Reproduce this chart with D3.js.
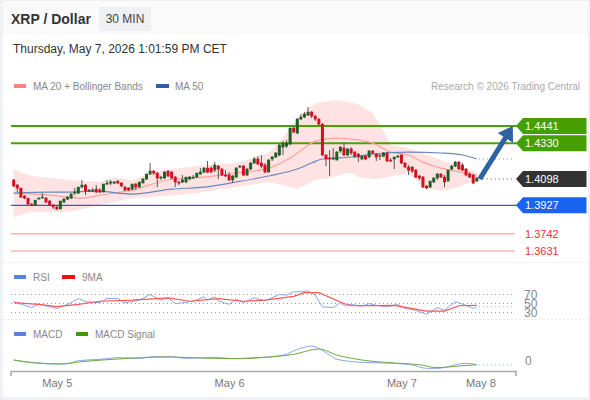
<!DOCTYPE html>
<html><head><meta charset="utf-8">
<script src="https://cdn.jsdelivr.net/npm/d3@7"></script>
<style>html,body{margin:0;padding:0;background:#fff}svg{display:block;font-family:"Liberation Sans",Arial,sans-serif}</style>
</head><body><svg id="c" width="590" height="400"></svg>
<script>
const opens=[1.4091,1.4058,1.4039,1.3987,1.3974,1.3935,1.3929,1.3967,1.3974,1.3974,1.3955,1.3929,1.3916,1.3903,1.3948,1.3967,1.3974,1.4006,1.4006,1.4045,1.4058,1.4019,1.4019,1.4032,1.4026,1.4013,1.4065,1.4071,1.4071,1.4084,1.4071,1.4045,1.4039,1.4032,1.4065,1.4045,1.4071,1.4097,1.4130,1.4149,1.4136,1.4104,1.4104,1.4149,1.4142,1.4110,1.4078,1.4078,1.4078,1.4097,1.4104,1.4110,1.4130,1.4142,1.4168,1.4168,1.4155,1.4181,1.4162,1.4123,1.4123,1.4091,1.4110,1.4175,1.4181,1.4123,1.4162,1.4201,1.4227,1.4201,1.4188,1.4142,1.4227,1.4240,1.4253,1.4304,1.4311,1.4324,1.4428,1.4395,1.4486,1.4499,1.4512,1.4531,1.4505,1.4486,1.4453,1.4253,1.4233,1.4227,1.4220,1.4279,1.4298,1.4253,1.4292,1.4272,1.4259,1.4227,1.4246,1.4240,1.4279,1.4259,1.4246,1.4246,1.4266,1.4220,1.4227,1.4240,1.4253,1.4201,1.4175,1.4175,1.4155,1.4117,1.4110,1.4052,1.4045,1.4078,1.4104,1.4130,1.4110,1.4084,1.4162,1.4181,1.4207,1.4188,1.4162,1.4130,1.4123,1.4084];
const closes=[1.4052,1.4039,1.3980,1.3974,1.3935,1.3929,1.3961,1.3974,1.3980,1.3948,1.3929,1.3916,1.3903,1.3955,1.3967,1.3980,1.4000,1.4013,1.4045,1.4058,1.4019,1.4026,1.4026,1.4013,1.4013,1.4065,1.4071,1.4078,1.4078,1.4071,1.4052,1.4026,1.4026,1.4065,1.4045,1.4078,1.4097,1.4130,1.4149,1.4136,1.4104,1.4110,1.4142,1.4117,1.4104,1.4078,1.4071,1.4091,1.4110,1.4110,1.4110,1.4136,1.4142,1.4168,1.4142,1.4142,1.4188,1.4162,1.4123,1.4117,1.4091,1.4117,1.4168,1.4181,1.4123,1.4162,1.4201,1.4227,1.4194,1.4181,1.4142,1.4220,1.4240,1.4266,1.4317,1.4330,1.4330,1.4428,1.4402,1.4486,1.4499,1.4518,1.4531,1.4505,1.4486,1.4453,1.4253,1.4227,1.4227,1.4233,1.4272,1.4304,1.4253,1.4292,1.4266,1.4246,1.4240,1.4246,1.4227,1.4279,1.4266,1.4240,1.4253,1.4266,1.4214,1.4214,1.4240,1.4246,1.4201,1.4175,1.4155,1.4149,1.4110,1.4104,1.4045,1.4039,1.4084,1.4104,1.4130,1.4110,1.4078,1.4155,1.4181,1.4207,1.4162,1.4155,1.4123,1.4110,1.4071,1.4104];
const highs=[1.4097,1.4065,1.4039,1.3993,1.3974,1.3942,1.3961,1.3980,1.4006,1.3980,1.3961,1.3935,1.3922,1.3955,1.3974,1.3987,1.4006,1.4039,1.4045,1.4091,1.4065,1.4032,1.4039,1.4058,1.4039,1.4065,1.4091,1.4091,1.4084,1.4091,1.4078,1.4052,1.4045,1.4065,1.4071,1.4078,1.4104,1.4130,1.4201,1.4155,1.4142,1.4117,1.4149,1.4155,1.4149,1.4117,1.4084,1.4123,1.4110,1.4117,1.4123,1.4136,1.4168,1.4175,1.4214,1.4181,1.4207,1.4188,1.4168,1.4155,1.4142,1.4123,1.4175,1.4188,1.4188,1.4168,1.4207,1.4240,1.4246,1.4253,1.4201,1.4227,1.4246,1.4272,1.4324,1.4343,1.4350,1.4428,1.4434,1.4492,1.4518,1.4531,1.4564,1.4538,1.4512,1.4492,1.4460,1.4259,1.4285,1.4298,1.4279,1.4311,1.4337,1.4298,1.4304,1.4279,1.4266,1.4253,1.4253,1.4285,1.4285,1.4266,1.4253,1.4272,1.4272,1.4233,1.4240,1.4253,1.4259,1.4207,1.4188,1.4181,1.4162,1.4123,1.4117,1.4058,1.4084,1.4110,1.4136,1.4136,1.4123,1.4155,1.4188,1.4214,1.4214,1.4201,1.4168,1.4142,1.4130,1.4110];
const lows=[1.4045,1.4013,1.3974,1.3967,1.3929,1.3922,1.3922,1.3967,1.3974,1.3942,1.3922,1.3903,1.3896,1.3903,1.3942,1.3961,1.3967,1.3993,1.4000,1.4039,1.3993,1.4013,1.4013,1.4006,1.4006,1.4013,1.4058,1.4058,1.4065,1.4065,1.4045,1.4019,1.4019,1.4026,1.4026,1.4045,1.4071,1.4091,1.4123,1.4123,1.4045,1.4091,1.4097,1.4110,1.4097,1.4045,1.4058,1.4071,1.4071,1.4091,1.4097,1.4104,1.4123,1.4136,1.4136,1.4136,1.4142,1.4097,1.4117,1.4110,1.4084,1.4071,1.4104,1.4168,1.4117,1.4117,1.4155,1.4194,1.4188,1.4168,1.4136,1.4142,1.4214,1.4233,1.4246,1.4253,1.4298,1.4317,1.4395,1.4389,1.4479,1.4492,1.4505,1.4492,1.4473,1.4447,1.4246,1.4181,1.4117,1.4220,1.4220,1.4266,1.4246,1.4246,1.4253,1.4233,1.4207,1.4220,1.4220,1.4233,1.4259,1.4214,1.4220,1.4240,1.4207,1.4207,1.4162,1.4233,1.4194,1.4168,1.4123,1.4136,1.4104,1.4091,1.4039,1.4032,1.4039,1.4071,1.4091,1.4104,1.4045,1.4084,1.4155,1.4175,1.4155,1.4149,1.4117,1.4104,1.4065,1.4078];

const ma20Idx=[0,10,15,19,24,33,43,53,62,71,77,81,84,90,94,100,105,110,114,119,123,129];
const ma20=[1.4006,1.3993,1.3980,1.3974,1.3993,1.4026,1.4091,1.4110,1.4136,1.4168,1.4233,1.4298,1.4343,1.4363,1.4356,1.4330,1.4272,1.4253,1.4207,1.4168,1.4149,1.4123];
const ma50Idx=[0,10,15,23,33,44,53,62,71,79,83,86,94,100,110,119,125,129];
const ma50=[1.4006,1.4013,1.4013,1.4019,1.4000,1.4032,1.4045,1.4078,1.4117,1.4162,1.4201,1.4227,1.4240,1.4259,1.4272,1.4266,1.4253,1.4227];
const bbUpIdx=[0,5,11,15,24,28,33,39,44,53,62,71,75,79,84,90,96,100,103,105,110,119,129];
const bbUp=[1.4162,1.4117,1.4104,1.4091,1.4078,1.4110,1.4091,1.4142,1.4162,1.4188,1.4201,1.4266,1.4363,1.4492,1.4590,1.4609,1.4583,1.4525,1.4415,1.4317,1.4298,1.4220,1.4142];
const bbLoIdx=[0,5,15,24,33,46,53,62,71,75,79,84,88,94,96,101,110,114,119,123,129];
const bbLo=[1.3851,1.3883,1.3883,1.3929,1.3974,1.3993,1.4013,1.4045,1.4078,1.4058,1.4032,1.4091,1.4104,1.4142,1.4110,1.4097,1.4136,1.4045,1.4019,1.4039,1.4091];

const rsiIdx=[0,2,5,7,12,15,18,20,24,26,29,31,35,38,41,43,45,47,50,53,54,56,57,60,62,64,67,70,74,76,78,80,82,84,86,89,91,92,94,97,99,101,104,107,109,112,115,118,120,123,126,128,129];
const rsi=[53.7,48.5,41,48.5,39,48,61,54,51.5,61,61,51.5,57.5,70,57.5,62.6,50,51.5,55,65,57.5,65,56,48,59.6,51.5,62.6,56,70,68.5,76,76,78,68.5,42.6,41,51.5,46,48,44,50,46,42.6,48,39,35,26,41,35,54,46,39,42.6];
const ma9Idx=[0,7,12,18,24,33,43,49,57,64,70,78,81,85,92,94,106,115,120,124,129];
const ma9=[52,48,43,48,55,57.5,62.6,55,61,55,57.5,66,74,74,50,45,46,33,33,45,46];
const macdIdx=[0,5,12,15,18,24,29,35,39,44,48,56,61,67,72,76,78,81,83,85,88,90,97,106,111,115,118,121,124,126,129];
const macd=[.003,.0016,.0006,.0008,.0026,.0034,.0044,.004,.005,.005,.004,.0046,.0038,.0044,.005,.0064,.0085,.0106,.0114,.01,.006,.0034,.0016,.001,0,-.002,-.002,-.001,.0006,.001,.0002];
const sigIdx=[0,5,13,19,29,43,52,64,70,78,85,90,97,106,113,118,124,129];
const sig=[.003,.0014,.0006,.002,.0036,.0048,.0042,.0038,.0046,.0064,.0096,.006,.003,.0012,.0002,-.0016,-.0006,.0002];

const levelsGreen=[1.4441,1.4330], levelLast=1.4098, levelBlue=1.3927, levelsRed=[1.3742,1.3631];
const rsiTicks=[70,50,30];
const dayIdx=[12,60,108,130], dayLabels=["May 5","May 6","May 7","May 8"];

const svg=d3.select("#c");
const x=d3.scaleLinear().domain([0,129]).range([13.7,476.8]);
const y=d3.scaleLinear().domain([1.4441,1.3631]).range([126,251]);
const yR=d3.scaleLinear().domain([70,30]).range([294.5,312.5]);
const yM=d3.scaleLinear().domain([0,.012]).range([365,345]);
const L=11,R=515;
const GRAY="#888",FONT=10;

// frame
svg.append("rect").attr("width",590).attr("height",400).attr("fill","#eef2f6");
svg.append("rect").attr("x",3).attr("y",1).attr("width",585).attr("height",396).attr("fill","#fff");
svg.append("rect").attr("x",3).attr("y",1).attr("width",585).attr("height",34).attr("fill","#fafafb");

// header
svg.append("text").attr("x",11).attr("y",24).attr("font-size",14).attr("font-weight",700).attr("fill","#333").text("XRP / Dollar");
svg.append("rect").attr("x",99).attr("y",7).attr("width",52).attr("height",24).attr("fill","#eef0f3");
svg.append("text").attr("x",125).attr("y",23).attr("text-anchor","middle").attr("font-size",12).attr("fill","#444").text("30 MIN");
svg.append("text").attr("x",13).attr("y",53).attr("font-size",12).attr("fill","#333").text("Thursday, May 7, 2026 1:01:59 PM CET");

function legend(yy,items){items.forEach(d=>{
 svg.append("rect").attr("x",d[0]).attr("y",yy-2).attr("width",d[1]).attr("height",4).attr("fill",d[2]);
 svg.append("text").attr("x",d[3]).attr("y",yy+4).attr("font-size",FONT).attr("fill",GRAY).text(d[4]);
});}
legend(86,[[14,12,"#ff8080",33,"MA 20 + Bollinger Bands"],[156,13,"#2f5f9f",175,"MA 50"]]);
legend(277,[[14,12,"#5b7fe0",33,"RSI"],[62,13,"#f01010",82,"9MA"]]);
legend(334,[[14,12,"#5b7fe0",33,"MACD"],[76,12,"#3f9a00",95,"MACD Signal"]]);
svg.append("text").attr("x",580).attr("y",90).attr("text-anchor","end").attr("font-size",FONT).attr("fill","#aaa").text("Research © 2026 Trading Central");

// panel separators
[262,319].forEach(v=>svg.append("line").attr("x1",3).attr("x2",588).attr("y1",v+.5).attr("y2",v+.5).attr("stroke","#e8e8e8").attr("stroke-dasharray","2,2"));

const pts=(ix,v)=>ix.map((d,i)=>[d,v[i]]);
const cv=d3.curveMonotoneX;
// bollinger
const allIdx=d3.range(0,130);
const fU=d3.scaleLinear().domain(bbUpIdx).range(bbUp),fL=d3.scaleLinear().domain(bbLoIdx).range(bbLo);
svg.append("path").attr("fill","#ffe3e3").attr("d",d3.area().x(d=>x(d)).y0(d=>y(fL(d))).y1(d=>y(fU(d))).curve(d3.curveBasis)(allIdx));

// level lines
levelsGreen.forEach(v=>svg.append("line").attr("x1",L).attr("x2",R+2).attr("y1",y(v)).attr("y2",y(v)).attr("stroke","#4aa000").attr("stroke-width",2));
svg.append("line").attr("x1",L).attr("x2",R+2).attr("y1",y(levelBlue)).attr("y2",y(levelBlue)).attr("stroke","#2a5fd0").attr("stroke-width",1.2);
levelsRed.forEach(v=>svg.append("line").attr("x1",L).attr("x2",R).attr("y1",y(v)).attr("y2",y(v)).attr("stroke","#ffb4b4").attr("stroke-width",1.5));

// MA lines
const line=(sc)=>d3.line().x(d=>x(d[0])).y(d=>sc(d[1]));
svg.append("path").attr("fill","none").attr("stroke","#ffa0a0").attr("stroke-width",1.2).attr("d",line(y).curve(cv)(pts(ma20Idx,ma20)));
svg.append("path").attr("fill","none").attr("stroke","#6a88bf").attr("stroke-width",1.2).attr("d",line(y).curve(cv)(pts(ma50Idx,ma50)));
const lastX=x(129);
svg.append("line").attr("x1",lastX+2).attr("x2",R).attr("y1",y(ma50[ma50.length-1])).attr("y2",y(ma50[ma50.length-1])).attr("stroke","#6a88bf").attr("stroke-width",1).attr("stroke-dasharray","1,3");

// candles
const ci=d3.range(opens.length);
svg.append("g").selectAll("line").data(ci).join("line").attr("x1",x).attr("x2",x).attr("y1",i=>y(highs[i])).attr("y2",i=>y(lows[i])).attr("stroke","#555").attr("stroke-width",1);
svg.append("g").selectAll("rect").data(ci).join("rect")
 .attr("x",i=>x(i)-1.5).attr("width",3)
 .attr("y",i=>Math.min(y(opens[i]),y(closes[i]))-.3).attr("height",i=>Math.max(1.5,Math.abs(y(opens[i])-y(closes[i]))+.6))
 .attr("fill",i=>closes[i]>=opens[i]?"#1f5f28":"#d40f20");

// dotted last-price
svg.append("line").attr("x1",lastX+2).attr("x2",R).attr("y1",y(levelLast)).attr("y2",y(levelLast)).attr("stroke","#555").attr("stroke-width",1).attr("stroke-dasharray","1,3");

// arrow towards first target
const ax0=x(129)+3,ay0=y(levelLast),ax1=x(129)+36,ay1=y(levelsGreen[0]);
const ang=Math.atan2(ay1-ay0,ax1-ax0),ux=Math.cos(ang),uy=Math.sin(ang);
svg.append("line").attr("x1",ax0).attr("y1",ay0).attr("x2",ax1-ux*8).attr("y2",ay1-uy*8).attr("stroke","#2f62a0").attr("stroke-width",5);
svg.append("path").attr("fill","#2f62a0").attr("d",()=>{const bx=ax1-ux*14,by=ay1-uy*14,nx=-uy,ny=ux;return `M${ax1},${ay1}L${bx+nx*9},${by+ny*9}L${bx-nx*9},${by-ny*9}Z`;});

// tags
function tag(v,fill){const c=y(v),h=8;
 svg.append("path").attr("fill",fill).attr("d",`M516,${c}L523,${c-h}H586.5V${c+h}H523Z`);
 svg.append("text").attr("x",525).attr("y",c+4).attr("font-size",11).attr("fill","#fff").text(v.toFixed(4));}
levelsGreen.forEach(v=>tag(v,"#459f00"));
tag(levelLast,"#333");
tag(levelBlue,"#1a62f0");
levelsRed.forEach(v=>svg.append("text").attr("x",525).attr("y",y(v)+4).attr("font-size",11).attr("fill","#f03030").text(v.toFixed(4)));

// RSI
rsiTicks.forEach(v=>{
 svg.append("line").attr("x1",L).attr("x2",R).attr("y1",yR(v)).attr("y2",yR(v)).attr("stroke","#999").attr("stroke-width",1).attr("stroke-dasharray","1,3");
});
rsiTicks.forEach(v=>{
 svg.append("rect").attr("x",523).attr("y",yR(v)-4).attr("width",20).attr("height",8.5).attr("fill","#fff");
 svg.append("text").attr("x",524).attr("y",yR(v)+4).attr("font-size",12).attr("fill","#888").text(v);
});
svg.append("path").attr("fill","none").attr("stroke","#8aa6f0").attr("stroke-width",1).attr("d",line(yR)(pts(rsiIdx,rsi)));
svg.append("path").attr("fill","none").attr("stroke","#f55").attr("stroke-width",1.2).attr("d",line(yR)(pts(ma9Idx,ma9)));
svg.append("line").attr("x1",lastX+2).attr("x2",R).attr("y1",yR(rsi[rsi.length-1])).attr("y2",yR(rsi[rsi.length-1])).attr("stroke","#8aa6f0").attr("stroke-dasharray","1,3");

// MACD
svg.append("path").attr("fill","none").attr("stroke","#8aa6f0").attr("stroke-width",1).attr("d",line(yM).curve(cv)(pts(macdIdx,macd)));
svg.append("path").attr("fill","none").attr("stroke","#70a840").attr("stroke-width",1).attr("d",line(yM).curve(cv)(pts(sigIdx,sig)));
svg.append("line").attr("x1",lastX+2).attr("x2",R).attr("y1",yM(0)).attr("y2",yM(0)).attr("stroke","#8aa6f0").attr("stroke-dasharray","1,3");
svg.append("text").attr("x",525).attr("y",yM(0)).attr("font-size",12).attr("fill","#888").text("0");

// x axis
const ax=d3.axisBottom(x).tickValues(dayIdx).tickFormat((d,i)=>dayLabels[i]).tickSize(0).tickPadding(8);
const g=svg.append("g").attr("transform","translate(0,371)").call(ax);
g.select(".domain").remove();
g.selectAll("text").attr("font-size",11).attr("font-family","inherit").attr("fill","#777");
svg.append("path").attr("fill","none").attr("stroke","#aaa").attr("stroke-width",1.6).attr("d",`M${L},376V371.5H516V376`);
</script></body></html>
